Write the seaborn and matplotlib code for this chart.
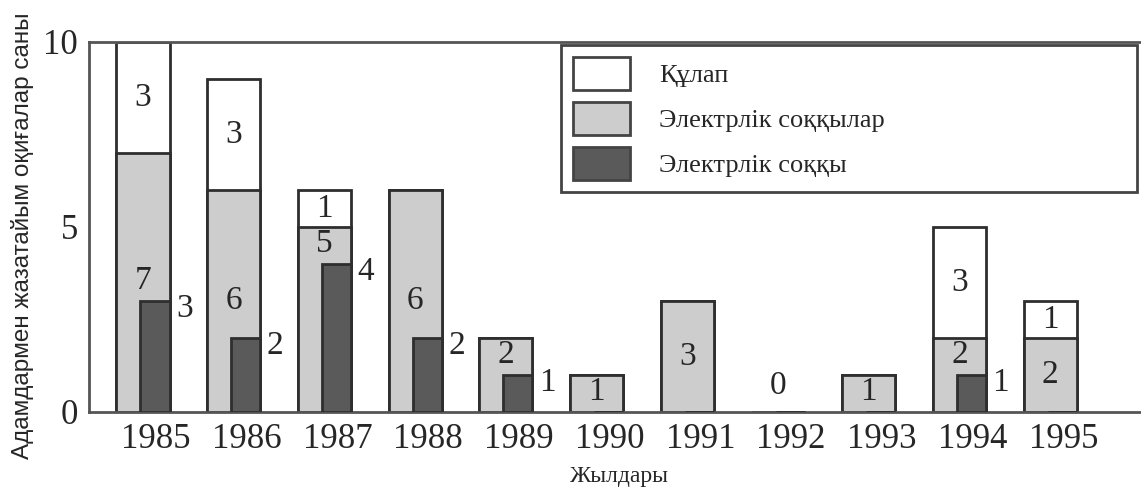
import matplotlib
matplotlib.use("Agg")
import matplotlib.pyplot as plt
import matplotlib.transforms as mtransforms
from matplotlib.patches import Patch
import numpy as np
import pandas as pd
import seaborn as sns

# Accident counts per year
years = ["1985", "1986", "1987", "1988", "1989", "1990",
         "1991", "1992", "1993", "1994", "1995"]
shocks = [7, 6, 5, 6, 2, 1, 3, 0, 1, 2, 2]        # Электрлік соққылар
falls = [3, 3, 1, 0, 0, 0, 0, 0, 0, 3, 1]         # Құлап
single_shock = [3, 2, 4, 2, 1, 0, 0, 0, 0, 1, 0]  # Электрлік соққы

legend_labels = ["Құлап", "Электрлік соққылар", "Электрлік соққы"]
y_ticks = [0, 5, 10]

df = pd.DataFrame({"year": years, "shocks": shocks, "falls": falls,
                   "single": single_shock})
df["total"] = df["shocks"] + df["falls"]

sns.set_theme(style="white")
plt.rcParams["font.family"] = ["Liberation Serif", "DejaVu Serif"]

EDGE = "#2e2e2e"
LIGHT = "#cdcdcd"
DARK = "#5a5a5a"
TEXT = "#262626"
BAR_W = 0.585
DARK_W = 0.32
LW = 2.0

fig = plt.figure(figsize=(11.41, 4.95), dpi=100)
ax = fig.add_axes([0.078, 0.1677, 0.922, 0.7475])

sns.barplot(data=df, x="year", y="total", color="white", saturation=1,
            edgecolor=EDGE, linewidth=LW, width=BAR_W, errorbar=None, ax=ax)
sns.barplot(data=df, x="year", y="shocks", color=LIGHT, saturation=1,
            edgecolor=EDGE, linewidth=LW, width=BAR_W, errorbar=None, ax=ax)

xs = np.arange(len(years))
dark_x = xs + BAR_W / 2 - DARK_W / 2
ax.bar(dark_x, df["single"], width=DARK_W, color=DARK, edgecolor=EDGE,
       linewidth=LW, zorder=3)

num_kw = dict(fontsize=24, color=TEXT, zorder=5)

# value labels on the shock segments
for i, (g, d) in enumerate(zip(shocks, single_shock)):
    if g == 0:
        y = 0.7
    else:
        y = min(max(g / 2, d + 0.55), g - 0.45)
    ax.text(i, y, str(g), ha="center", va="center", **num_kw)

# value labels on the fall segments
for i, (g, f) in enumerate(zip(shocks, falls)):
    if f > 0:
        ax.text(i, g + f / 2, str(f), ha="center", va="center", **num_kw)

# value labels beside the single-shock bars
for i, d in enumerate(single_shock):
    if d > 0:
        ax.text(i + BAR_W / 2 + 0.07, d - 0.2, str(d), ha="left",
                va="center", **num_kw)

ax.set_xlim(-0.595, 11.0)
ax.set_ylim(0, 10)
ax.set_yticks(y_ticks)
ax.set_yticklabels([str(t) for t in y_ticks])
ax.tick_params(axis="both", length=0, labelsize=25, labelcolor=TEXT)
ax.tick_params(axis="y", pad=8)
ax.tick_params(axis="x", pad=8)

shift = mtransforms.ScaledTranslation(13 / 100, 0, fig.dpi_scale_trans)
for lbl in ax.get_xticklabels():
    lbl.set_transform(lbl.get_transform() + shift)

for side in ["left", "top", "bottom"]:
    ax.spines[side].set_visible(True)
    ax.spines[side].set_color("#555555")
    ax.spines[side].set_linewidth(2)
ax.spines["right"].set_visible(False)

ax.set_xlabel("Жылдары", fontsize=17, color=TEXT)
ax.xaxis.set_label_coords(0.504, -0.146)
ax.set_ylabel("Адамдармен жазатайым оқиғалар саны", fontsize=17.5,
              color=TEXT, family=["Liberation Sans", "DejaVu Sans"])
ax.yaxis.set_label_coords(-0.052, 0.475)

handles = [Patch(facecolor="white", edgecolor="#444444", linewidth=2),
           Patch(facecolor=LIGHT, edgecolor="#444444", linewidth=2),
           Patch(facecolor=DARK, edgecolor="#444444", linewidth=2)]
leg = ax.legend(handles, legend_labels, loc="upper left",
                bbox_to_anchor=(0.449, 0.5, 0.547, 0.492), mode="expand",
                borderaxespad=0, fontsize=19, handlelength=2.16,
                handleheight=1.55, labelspacing=0.45, handletextpad=1.1,
                borderpad=0.45, fancybox=False, framealpha=1)
leg.get_frame().set_edgecolor("#444444")
leg.get_frame().set_linewidth(2)
for t in leg.get_texts():
    t.set_color(TEXT)

fig.savefig("out.png", dpi=100)
